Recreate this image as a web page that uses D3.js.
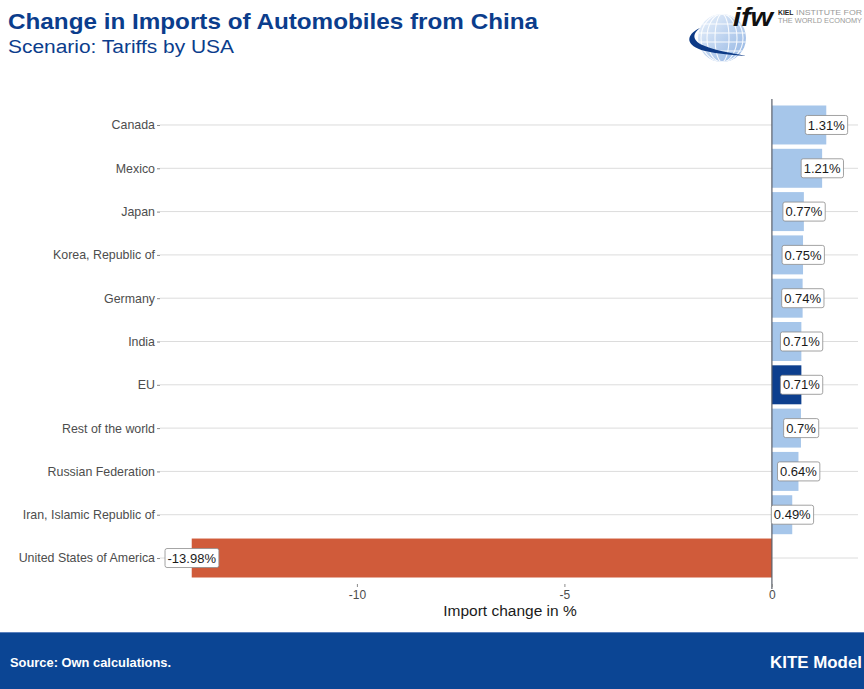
<!DOCTYPE html>
<html>
<head>
<meta charset="utf-8">
<script src="https://cdn.jsdelivr.net/npm/d3@7"></script>
<style>
  html, body { margin: 0; padding: 0; background: #fff; }
  svg { display: block; font-family: "Liberation Sans", Arial, Helvetica, sans-serif; }
</style>
</head>
<body>
<svg id="chart" width="864" height="689"></svg>
<script>
// Importing countries, top to bottom
const countries = [
  "Canada", "Mexico", "Japan", "Korea, Republic of", "Germany", "India",
  "EU", "Rest of the world", "Russian Federation", "Iran, Islamic Republic of",
  "United States of America"
];
// Change in imports of automobiles from China, in %
const changes = [1.31, 1.21, 0.77, 0.75, 0.74, 0.71, 0.71, 0.7, 0.64, 0.49, -13.98];
// Labels printed on the bars
const valueLabels = ["1.31%", "1.21%", "0.77%", "0.75%", "0.74%", "0.71%", "0.71%", "0.7%", "0.64%", "0.49%", "-13.98%"];
// X axis ticks
const xTicks = [-10, -5, 0];

const rows = countries.map((c, i) => ({ country: c, value: changes[i], label: valueLabels[i] }));

const svg = d3.select("#chart");
const W = 864, H = 689;

const panel = { left: 160, right: 858, top: 99, bottom: 584 };

// ggplot-style expansion (5%) around the data range
const vMin = d3.min(changes), vMax = d3.max(changes);
const span = vMax - vMin;
const x = d3.scaleLinear()
  .domain([vMin - span * 0.05, vMax + span * 0.05])
  .range([panel.left, panel.right]);

const y = d3.scalePoint()
  .domain(countries)
  .range([panel.top, panel.bottom])
  .padding(0.6);

const barH = y.step() * 0.9;

function fillFor(d) {
  if (d.country === "EU") return "#0d3f8e";
  if (d.value < 0) return "#d05b3a";
  return "#a6c6ea";
}

// Title block
svg.append("text")
  .attr("x", 8).attr("y", 29)
  .attr("font-size", 22.5).attr("font-weight", "bold")
  .attr("fill", "#0b3d8c")
  .attr("textLength", 530).attr("lengthAdjust", "spacingAndGlyphs")
  .text("Change in Imports of Automobiles from China");
svg.append("text")
  .attr("x", 8).attr("y", 53)
  .attr("font-size", 18)
  .attr("fill", "#0b3d8c")
  .attr("textLength", 226).attr("lengthAdjust", "spacingAndGlyphs")
  .text("Scenario: Tariffs by USA");

// Institute logo
const logo = svg.append("g").attr("class", "logo");
const defs = svg.append("defs");
const grad = defs.append("linearGradient").attr("id", "globeGrad")
  .attr("x1", 0).attr("y1", 0).attr("x2", 1).attr("y2", 1);
grad.append("stop").attr("offset", "0%").attr("stop-color", "#eef4fc");
grad.append("stop").attr("offset", "55%").attr("stop-color", "#b9d0ee");
grad.append("stop").attr("offset", "100%").attr("stop-color", "#8fb2e2");
const gcx = 722, gcy = 38, gr = 24;
const clip = defs.append("clipPath").attr("id", "globeClip");
clip.append("circle").attr("cx", gcx).attr("cy", gcy).attr("r", gr);
logo.append("circle").attr("cx", gcx).attr("cy", gcy).attr("r", gr)
  .attr("fill", "url(#globeGrad)");
const mer = logo.append("g").attr("clip-path", "url(#globeClip)")
  .attr("fill", "none").attr("stroke", "#ffffff").attr("stroke-width", 1.1).attr("opacity", 0.9);
[7, 15, 21].forEach(rx => mer.append("ellipse").attr("cx", gcx).attr("cy", gcy).attr("rx", rx).attr("ry", gr));
[-14, -5, 4, 13].forEach(dy => mer.append("line")
  .attr("x1", gcx - gr).attr("x2", gcx + gr).attr("y1", gcy + dy).attr("y2", gcy + dy));
logo.append("path")
  .attr("d", "M700,28 C685,35 685,46 705,51 C718,54 733,55 746,56 C732,53 712,50 700,44 C692,39 693,33 700,28 Z")
  .attr("fill", "#0d3a86");
logo.append("text")
  .attr("x", 733).attr("y", 26)
  .attr("font-size", 25).attr("font-weight", "bold").attr("font-style", "italic")
  .attr("fill", "#111")
  .attr("textLength", 40).attr("lengthAdjust", "spacingAndGlyphs")
  .text("ifw");
logo.append("text").attr("x", 778).attr("y", 15)
  .attr("font-size", 6.8).attr("font-weight", "bold").attr("fill", "#222")
  .text("KIEL");
logo.append("text").attr("x", 796).attr("y", 15)
  .attr("font-size", 6.8).attr("fill", "#9a9a9a")
  .attr("textLength", 66).attr("lengthAdjust", "spacingAndGlyphs")
  .text("INSTITUTE FOR");
logo.append("text").attr("x", 778).attr("y", 23)
  .attr("font-size", 6.8).attr("fill", "#9a9a9a")
  .attr("textLength", 84).attr("lengthAdjust", "spacingAndGlyphs")
  .text("THE WORLD ECONOMY");

// Horizontal gridlines at each category
const plot = svg.append("g");
plot.selectAll("line.grid")
  .data(countries)
  .join("line")
  .attr("class", "grid")
  .attr("x1", panel.left).attr("x2", panel.right)
  .attr("y1", d => y(d)).attr("y2", d => y(d))
  .attr("stroke", "#dcdcdc").attr("stroke-width", 1);

// Bars
plot.selectAll("rect.bar")
  .data(rows)
  .join("rect")
  .attr("class", "bar")
  .attr("x", d => x(Math.min(0, d.value)))
  .attr("width", d => Math.abs(x(d.value) - x(0)))
  .attr("y", d => y(d.country) - barH / 2)
  .attr("height", barH)
  .attr("fill", fillFor);

// Zero reference line
plot.append("line")
  .attr("x1", x(0)).attr("x2", x(0))
  .attr("y1", panel.top).attr("y2", panel.bottom + 5)
  .attr("stroke", "#5a5f6a").attr("stroke-width", 1.2);

// Y axis (category labels with short ticks)
const yAxis = d3.axisLeft(y).tickSize(3).tickPadding(2);
const yG = svg.append("g")
  .attr("transform", `translate(${panel.left},0)`)
  .call(yAxis);
yG.select(".domain").remove();
yG.selectAll(".tick line").attr("stroke", "#8a8a8a");
yG.selectAll(".tick text")
  .attr("fill", "#4d4d4d").attr("font-size", 12.4)
  .attr("font-family", "'Liberation Sans', Arial, sans-serif");

// X axis
const xAxis = d3.axisBottom(x).tickValues(xTicks).tickSize(3).tickPadding(3)
  .tickFormat(d => String(d));
const xG = svg.append("g")
  .attr("transform", `translate(0,${panel.bottom})`)
  .call(xAxis);
xG.select(".domain").remove();
xG.selectAll(".tick line").attr("stroke", "#8a8a8a");
xG.selectAll(".tick text")
  .attr("fill", "#4d4d4d").attr("font-size", 12)
  .attr("font-family", "'Liberation Sans', Arial, sans-serif");

svg.append("text")
  .attr("x", (panel.left + panel.right) / 2 + 1).attr("y", 616)
  .attr("text-anchor", "middle")
  .attr("font-size", 15.5).attr("fill", "#1a1a1a")
  .text("Import change in %");

// Value labels in boxes, centred on each bar's end
const labels = plot.selectAll("g.vlabel")
  .data(rows)
  .join("g")
  .attr("class", "vlabel")
  .attr("transform", d => `translate(${x(d.value)},${y(d.country)})`);
labels.append("text")
  .attr("text-anchor", "middle")
  .attr("dy", "0.36em")
  .attr("font-size", 13)
  .attr("fill", "#1a1a1a")
  .text(d => d.label);
labels.each(function () {
  const g = d3.select(this);
  const bb = g.select("text").node().getBBox();
  g.insert("rect", "text")
    .attr("x", bb.x - 2.5).attr("y", -9.5)
    .attr("width", bb.width + 5).attr("height", 19)
    .attr("rx", 2).attr("ry", 2)
    .attr("fill", "#ffffff").attr("stroke", "#8c8c8c").attr("stroke-width", 0.8);
});

// Footer band
svg.append("rect")
  .attr("x", 0).attr("y", 632).attr("width", W).attr("height", H - 632)
  .attr("fill", "#0b4594");
svg.append("line")
  .attr("x1", 0).attr("x2", W).attr("y1", 632.5).attr("y2", 632.5)
  .attr("stroke", "#5a80bd").attr("stroke-width", 1);
svg.append("text")
  .attr("x", 10).attr("y", 667)
  .attr("font-size", 13).attr("font-weight", "bold").attr("fill", "#ffffff")
  .attr("textLength", 161).attr("lengthAdjust", "spacingAndGlyphs")
  .text("Source: Own calculations.");
svg.append("text")
  .attr("x", 862).attr("y", 668)
  .attr("text-anchor", "end")
  .attr("font-size", 16.5).attr("font-weight", "bold").attr("fill", "#ffffff")
  .attr("textLength", 92).attr("lengthAdjust", "spacingAndGlyphs")
  .text("KITE Model");
</script>
</body>
</html>
